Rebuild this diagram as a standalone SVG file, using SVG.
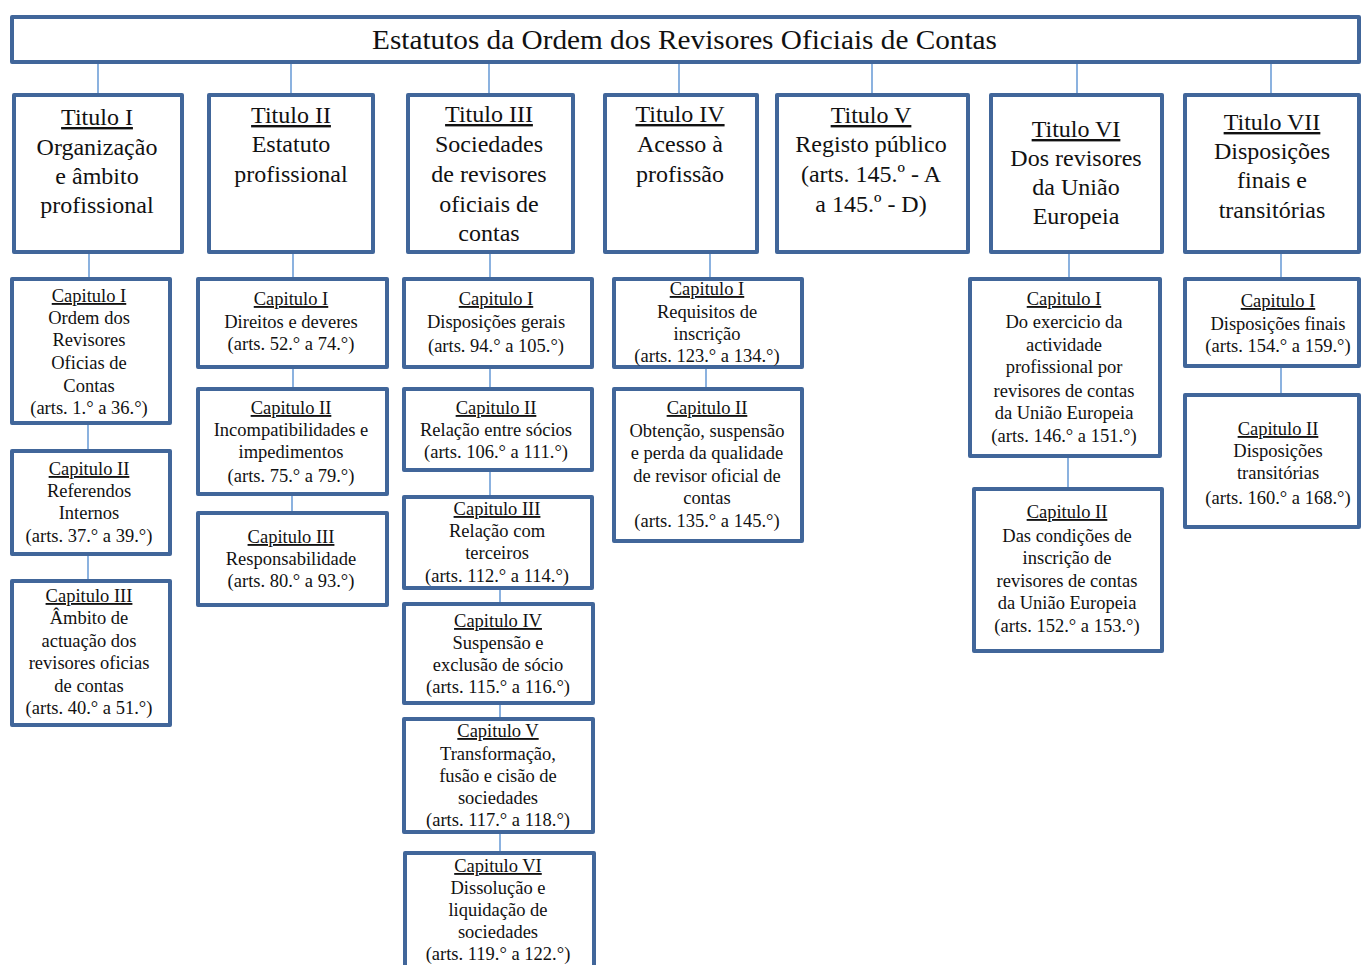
<svg xmlns="http://www.w3.org/2000/svg" width="1363" height="965" viewBox="0 0 1363 965" font-family="'Liberation Serif', 'DejaVu Serif', serif">
<style>
.box{fill:#fff;stroke:#41669a;stroke-width:4;stroke-linejoin:round}
.ln{stroke:#6f9fd8;stroke-width:1.6;fill:none}
text{font-family:'Liberation Serif','DejaVu Serif',serif;fill:#111;text-anchor:middle}
.tt{font-size:24px}
.ct{font-size:18.5px}
.hd{font-size:27px;text-anchor:start}
.u{text-decoration:underline}
</style>
<rect width="1363" height="965" fill="#fff"/>
<g id="connectors">
<line class="ln" x1="98" y1="62" x2="98" y2="95"/>
<line class="ln" x1="291" y1="62" x2="291" y2="95"/>
<line class="ln" x1="489" y1="62" x2="489" y2="95"/>
<line class="ln" x1="679" y1="62" x2="679" y2="95"/>
<line class="ln" x1="872" y1="62" x2="872" y2="95"/>
<line class="ln" x1="1077" y1="62" x2="1077" y2="95"/>
<line class="ln" x1="1271" y1="62" x2="1271" y2="95"/>
<line class="ln" x1="89" y1="252" x2="89" y2="279"/>
<line class="ln" x1="293" y1="252" x2="293" y2="279"/>
<line class="ln" x1="490" y1="252" x2="490" y2="279"/>
<line class="ln" x1="710" y1="252" x2="710" y2="279"/>
<line class="ln" x1="1069" y1="252" x2="1069" y2="279"/>
<line class="ln" x1="1281" y1="252" x2="1281" y2="279"/>
<line class="ln" x1="88" y1="423" x2="88" y2="451"/>
<line class="ln" x1="88" y1="554" x2="88" y2="581"/>
<line class="ln" x1="293" y1="367" x2="293" y2="389"/>
<line class="ln" x1="292" y1="494" x2="292" y2="513"/>
<line class="ln" x1="490" y1="367" x2="490" y2="389"/>
<line class="ln" x1="490" y1="470" x2="490" y2="497"/>
<line class="ln" x1="500" y1="588" x2="500" y2="604"/>
<line class="ln" x1="500" y1="703" x2="500" y2="719"/>
<line class="ln" x1="500" y1="832" x2="500" y2="853"/>
<line class="ln" x1="706" y1="367" x2="706" y2="389"/>
<line class="ln" x1="1068" y1="456" x2="1068" y2="489"/>
<line class="ln" x1="1281" y1="366" x2="1281" y2="395"/>
</g>
<g id="root">
<rect class="box" x="12" y="17" width="1347" height="45"/>
<text class="hd" x="372" y="49" textLength="625" lengthAdjust="spacingAndGlyphs">Estatutos da Ordem dos Revisores Oficiais de Contas</text>
</g>
<g id="titulo1">
<rect class="box" x="14" y="95" width="168" height="157"/>
<text class="tt" x="97"><tspan class="u" x="97" y="125">Titulo I</tspan><tspan x="97" y="155">Organização</tspan><tspan x="97" y="184">e âmbito</tspan><tspan x="97" y="213">profissional</tspan></text>
</g>
<g id="titulo2">
<rect class="box" x="209" y="95" width="164" height="157"/>
<text class="tt" x="291"><tspan class="u" x="291" y="123">Titulo II</tspan><tspan x="291" y="152">Estatuto</tspan><tspan x="291" y="182">profissional</tspan></text>
</g>
<g id="titulo3">
<rect class="box" x="408" y="95" width="165" height="157"/>
<text class="tt" x="489"><tspan class="u" x="489" y="122">Titulo III</tspan><tspan x="489" y="152">Sociedades</tspan><tspan x="489" y="182">de revisores</tspan><tspan x="489" y="212">oficiais de</tspan><tspan x="489" y="241">contas</tspan></text>
</g>
<g id="titulo4">
<rect class="box" x="605" y="95" width="152" height="157"/>
<text class="tt" x="680"><tspan class="u" x="680" y="122">Titulo IV</tspan><tspan x="680" y="152">Acesso à</tspan><tspan x="680" y="182">profissão</tspan></text>
</g>
<g id="titulo5">
<rect class="box" x="777" y="95" width="191" height="157"/>
<text class="tt" x="871"><tspan class="u" x="871" y="123">Titulo V</tspan><tspan x="871" y="152">Registo público</tspan><tspan x="871" y="182">(arts. 145.º - A</tspan><tspan x="871" y="212">a 145.º - D)</tspan></text>
</g>
<g id="titulo6">
<rect class="box" x="991" y="95" width="171" height="157"/>
<text class="tt" x="1076"><tspan class="u" x="1076" y="137">Titulo VI</tspan><tspan x="1076" y="166">Dos revisores</tspan><tspan x="1076" y="195">da União</tspan><tspan x="1076" y="224">Europeia</tspan></text>
</g>
<g id="titulo7">
<rect class="box" x="1185" y="95" width="174" height="157"/>
<text class="tt" x="1272"><tspan class="u" x="1272" y="130">Titulo VII</tspan><tspan x="1272" y="159">Disposições</tspan><tspan x="1272" y="188">finais e</tspan><tspan x="1272" y="218">transitórias</tspan></text>
</g>
<g id="t1c1">
<rect class="box" x="12" y="279" width="158" height="144"/>
<text class="ct"><tspan class="u" x="89" y="302">Capitulo I</tspan><tspan x="89" y="324">Ordem dos</tspan><tspan x="89" y="346">Revisores</tspan><tspan x="89" y="369">Oficias de</tspan><tspan x="89" y="392">Contas</tspan><tspan x="89" y="414">(arts. 1.° a 36.°)</tspan></text>
</g>
<g id="t1c2">
<rect class="box" x="12" y="451" width="158" height="103"/>
<text class="ct"><tspan class="u" x="89" y="475">Capitulo II</tspan><tspan x="89" y="497">Referendos</tspan><tspan x="89" y="519">Internos</tspan><tspan x="89" y="542">(arts. 37.° a 39.°)</tspan></text>
</g>
<g id="t1c3">
<rect class="box" x="12" y="581" width="158" height="144"/>
<text class="ct"><tspan class="u" x="89" y="602">Capitulo III</tspan><tspan x="89" y="624">Âmbito de</tspan><tspan x="89" y="647">actuação dos</tspan><tspan x="89" y="669">revisores oficias</tspan><tspan x="89" y="692">de contas</tspan><tspan x="89" y="714">(arts. 40.° a 51.°)</tspan></text>
</g>
<g id="t2c1">
<rect class="box" x="198" y="279" width="189" height="88"/>
<text class="ct"><tspan class="u" x="291" y="305">Capitulo I</tspan><tspan x="291" y="328">Direitos e deveres</tspan><tspan x="291" y="350">(arts. 52.° a 74.°)</tspan></text>
</g>
<g id="t2c2">
<rect class="box" x="198" y="389" width="189" height="105"/>
<text class="ct"><tspan class="u" x="291" y="414">Capitulo II</tspan><tspan x="291" y="436">Incompatibilidades e</tspan><tspan x="291" y="458">impedimentos</tspan><tspan x="291" y="482">(arts. 75.° a 79.°)</tspan></text>
</g>
<g id="t2c3">
<rect class="box" x="198" y="513" width="189" height="92"/>
<text class="ct"><tspan class="u" x="291" y="543">Capitulo III</tspan><tspan x="291" y="565">Responsabilidade</tspan><tspan x="291" y="587">(arts. 80.° a 93.°)</tspan></text>
</g>
<g id="t3c1">
<rect class="box" x="404" y="279" width="188" height="88"/>
<text class="ct"><tspan class="u" x="496" y="305">Capitulo I</tspan><tspan x="496" y="328">Disposições gerais</tspan><tspan x="496" y="352">(arts. 94.° a 105.°)</tspan></text>
</g>
<g id="t3c2">
<rect class="box" x="404" y="389" width="188" height="81"/>
<text class="ct"><tspan class="u" x="496" y="414">Capitulo II</tspan><tspan x="496" y="436">Relação entre sócios</tspan><tspan x="496" y="458">(arts. 106.° a 111.°)</tspan></text>
</g>
<g id="t3c3">
<rect class="box" x="404" y="497" width="188" height="91"/>
<text class="ct"><tspan class="u" x="497" y="515">Capitulo III</tspan><tspan x="497" y="537">Relação com</tspan><tspan x="497" y="559">terceiros</tspan><tspan x="497" y="582">(arts. 112.° a 114.°)</tspan></text>
</g>
<g id="t3c4">
<rect class="box" x="404" y="604" width="189" height="99"/>
<text class="ct"><tspan class="u" x="498" y="627">Capitulo IV</tspan><tspan x="498" y="649">Suspensão e</tspan><tspan x="498" y="671">exclusão de sócio</tspan><tspan x="498" y="693">(arts. 115.° a 116.°)</tspan></text>
</g>
<g id="t3c5">
<rect class="box" x="404" y="719" width="189" height="113"/>
<text class="ct"><tspan class="u" x="498" y="737">Capitulo V</tspan><tspan x="498" y="760">Transformação,</tspan><tspan x="498" y="782">fusão e cisão de</tspan><tspan x="498" y="804">sociedades</tspan><tspan x="498" y="826">(arts. 117.° a 118.°)</tspan></text>
</g>
<g id="t3c6">
<rect class="box" x="405" y="853" width="189" height="130"/>
<text class="ct"><tspan class="u" x="498" y="872">Capitulo VI</tspan><tspan x="498" y="894">Dissolução e</tspan><tspan x="498" y="916">liquidação de</tspan><tspan x="498" y="938">sociedades</tspan><tspan x="498" y="960">(arts. 119.° a 122.°)</tspan></text>
</g>
<g id="t4c1">
<rect class="box" x="614" y="279" width="188" height="88"/>
<text class="ct"><tspan class="u" x="707" y="295">Capitulo I</tspan><tspan x="707" y="318">Requisitos de</tspan><tspan x="707" y="340">inscrição</tspan><tspan x="707" y="362">(arts. 123.° a 134.°)</tspan></text>
</g>
<g id="t4c2">
<rect class="box" x="614" y="389" width="188" height="152"/>
<text class="ct"><tspan class="u" x="707" y="414">Capitulo II</tspan><tspan x="707" y="437">Obtenção, suspensão</tspan><tspan x="707" y="459">e perda da qualidade</tspan><tspan x="707" y="482">de revisor oficial de</tspan><tspan x="707" y="504">contas</tspan><tspan x="707" y="527">(arts. 135.° a 145.°)</tspan></text>
</g>
<g id="t6c1">
<rect class="box" x="970" y="279" width="190" height="177"/>
<text class="ct"><tspan class="u" x="1064" y="305">Capitulo I</tspan><tspan x="1064" y="328">Do exercicio da</tspan><tspan x="1064" y="351">actividade</tspan><tspan x="1064" y="373">profissional por</tspan><tspan x="1064" y="397">revisores de contas</tspan><tspan x="1064" y="419">da União Europeia</tspan><tspan x="1064" y="442">(arts. 146.° a 151.°)</tspan></text>
</g>
<g id="t6c2">
<rect class="box" x="974" y="489" width="188" height="162"/>
<text class="ct"><tspan class="u" x="1067" y="518">Capitulo II</tspan><tspan x="1067" y="542">Das condições de</tspan><tspan x="1067" y="564">inscrição de</tspan><tspan x="1067" y="587">revisores de contas</tspan><tspan x="1067" y="609">da União Europeia</tspan><tspan x="1067" y="632">(arts. 152.° a 153.°)</tspan></text>
</g>
<g id="t7c1">
<rect class="box" x="1185" y="279" width="174" height="87"/>
<text class="ct"><tspan class="u" x="1278" y="307">Capitulo I</tspan><tspan x="1278" y="330">Disposições finais</tspan><tspan x="1278" y="352">(arts. 154.° a 159.°)</tspan></text>
</g>
<g id="t7c2">
<rect class="box" x="1185" y="395" width="174" height="132"/>
<text class="ct"><tspan class="u" x="1278" y="435">Capitulo II</tspan><tspan x="1278" y="457">Disposições</tspan><tspan x="1278" y="479">transitórias</tspan><tspan x="1278" y="504">(arts. 160.° a 168.°)</tspan></text>
</g>
</svg>
